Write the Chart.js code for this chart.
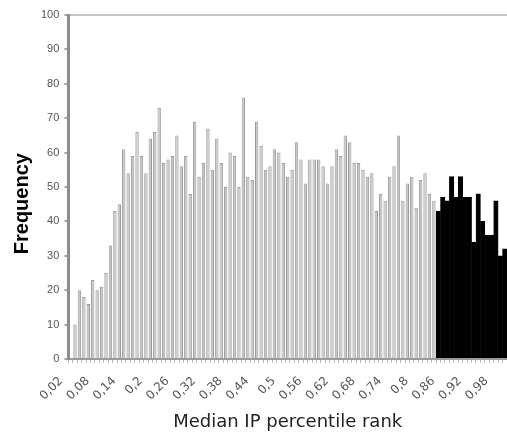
<!DOCTYPE html>
<html>
<head>
<meta charset="utf-8">
<script src="https://cdn.jsdelivr.net/npm/chart.js@4/dist/chart.umd.min.js"></script>
<style>
    html, body { margin: 0; padding: 0; background: #fff; overflow: hidden; }
    #wrap { position: relative; width: 507px; height: 433px; }
</style>
</head>
<body>
<div id="wrap"><canvas id="chart"></canvas></div>
<script>
// Bins 0.01 .. 0.99 (the picture is cut off right after 0.99)
const bins = []
for (let i = 1; i <= 99; i++) bins.push((i / 100).toFixed(2).replace(/0+$/, '').replace('.', ','))

// Grey part: 0.01 .. 0.83
const greyValues = [
    0, 10, 20, 18, 16, 23, 20, 21, 25, 33,
    43, 45, 61, 54, 59, 66, 59, 54, 64, 66,
    73, 57, 58, 59, 65, 56, 59, 48, 69, 53,
    57, 67, 55, 64, 57, 50, 60, 59, 50, 76,
    53, 52, 69, 62, 55, 56, 61, 60, 57, 53,
    55, 63, 58, 51, 58, 58, 58, 56, 51, 56,
    61, 59, 65, 63, 57, 57, 55, 53, 54, 43,
    48, 46, 53, 56, 65, 46, 51, 53, 44, 52,
    54, 48, 46
]
// Black part: 0.84 .. 0.99
const blackValues = [43, 47, 46, 53, 47, 53, 47, 47, 34, 48, 40, 36, 36, 46, 30, 32]

// Only every 6th bin gets a label, starting at 0,02
const labelEvery = 6
const yTicks = [0, 10, 20, 30, 40, 50, 60, 70, 80, 90, 100]

// Pad both series to the full bin count
const greyData = bins.map((b, i) => i < greyValues.length ? greyValues[i] : null)
const blackData = bins.map((b, i) => {
    let j = i - greyValues.length
    return j >= 0 ? blackValues[j] : null
})

const chart = new Chart(document.getElementById('chart').getContext('2d'), {
    type: 'bar',
    data: {
        labels: bins,
        datasets: [
            {
                data: greyData,
                backgroundColor: '#c8c8c8',
                borderColor: '#9a9a9a',
                borderWidth: { left: 1, right: 1, top: 1, bottom: 0 },
                barPercentage: 0.76,
                categoryPercentage: 1
            },
            {
                data: blackData,
                backgroundColor: '#000',
                borderColor: '#000',
                borderWidth: 0.6,
                barPercentage: 1,
                categoryPercentage: 1
            }
        ]
    },
    options: {
        responsive: true,
        maintainAspectRatio: false,
        animation: false,
        devicePixelRatio: 1,
        datasets: { bar: { grouped: false } },
        layout: { padding: { left: 0, right: 0, top: 15, bottom: 0 } },
        plugins: {
            legend: { display: false },
            tooltip: { enabled: false }
        },
        scales: {
            x: {
                // plot runs to the right edge, and the axis box gets a fixed height
                afterFit: axis => {
                    axis.paddingRight = 0
                    axis.height = 74
                },
                grid: {
                    drawOnChartArea: false,
                    tickLength: 4,
                    color: '#b8b8b8'
                },
                border: { color: '#9a9a9a', width: 2 },
                ticks: {
                    autoSkip: false,
                    maxRotation: 45,
                    minRotation: 45,
                    padding: 11,
                    labelOffset: -14,
                    color: '#555',
                    font: { family: 'DejaVu Sans', size: 12 },
                    callback: function (val, index) {
                        return (index - 1) % labelEvery === 0 ? this.getLabelForValue(val) : ''
                    }
                },
                title: {
                    display: true,
                    text: 'Median IP percentile rank',
                    color: '#222',
                    font: { family: 'DejaVu Sans', size: 18 },
                    padding: { top: 3, bottom: 0 }
                }
            },
            y: {
                min: 0,
                max: 100,
                afterBuildTicks: axis => { axis.ticks = yTicks.map(v => ({ value: v })) },
                grid: {
                    color: ctx => ctx.tick && ctx.tick.value === 100 ? '#c4c4c4' : 'rgba(0,0,0,0)',
                    lineWidth: 2,
                    tickColor: '#a8a8a8',
                    tickLength: 4
                },
                border: { color: '#8e8e8e', width: 3 },
                ticks: {
                    padding: 5,
                    color: '#555',
                    font: { family: 'Liberation Sans', size: 11 }
                },
                title: {
                    display: true,
                    // trailing spaces push the word a bit below the axis centre, as in the original
                    text: 'Frequency      ',
                    color: '#000',
                    font: { family: 'Liberation Sans', size: 20, weight: 'bold' },
                    padding: { top: 10, bottom: 2 }
                }
            }
        }
    }
})
</script>
</body>
</html>
